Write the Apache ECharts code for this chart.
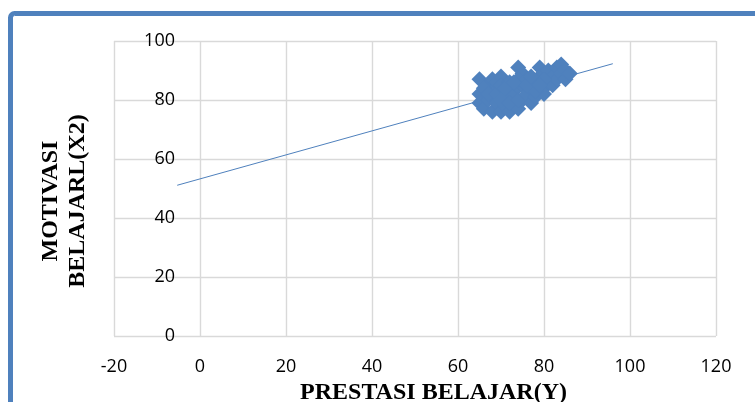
<!DOCTYPE html>
<html>
<head>
<meta charset="utf-8">
<script src="https://cdn.jsdelivr.net/npm/echarts@6/dist/echarts.min.js"></script>
<style>
  html, body { margin: 0; padding: 0; background: #ffffff; }
  #chart { width: 755px; height: 402px; }
</style>
</head>
<body>
<div id="chart"></div>
<script>
// Prestasi belajar (Y) vs motivasi belajar (X2), one point per student
const prestasi = [
  65, 65, 65, 66, 67, 68, 67, 68, 68, 69, 66, 69, 67, 69,
  70, 70, 70, 71, 71, 72, 72, 73, 73, 74, 74, 75, 75, 75, 72, 74, 71, 73, 70, 72, 74,
  76, 76, 77, 77, 78, 78, 79, 79, 80, 80, 81, 81, 82, 82, 83, 83, 84, 84, 85, 85, 86, 78, 80, 76, 77, 79
];
const motivasi = [
  87, 82, 79, 77, 85, 87, 80, 76, 83, 79, 84, 86, 82, 82,
  88, 85, 76, 81, 78, 86, 76, 83, 80, 91, 77, 89, 85, 80, 82, 87, 84, 86, 80, 79, 80,
  87, 82, 84, 79, 86, 81, 91, 88, 84, 82, 90, 86, 88, 85, 91, 87, 92, 89, 87, 90, 89, 83, 87, 85, 88, 85
];

// Linear trend line endpoints
const trendX = [-5.3, 96];
const trendY = [51.1, 92.3];

// Axis settings
const xTicks = { min: -20, max: 120, interval: 20 };
const yTicks = { min: 0, max: 100, interval: 20 };

const xAxisTitle = 'PRESTASI BELAJAR(Y)';
const yAxisTitle = 'MOTIVASI\nBELAJARL(X2)';

const blue = '#4F81BD';
const gridGray = '#d9d9d9';

const gridLeft = 114;
const gridRight = 39;
const chartWidth = 755;

const chart = echarts.init(document.getElementById('chart'), null, { renderer: 'canvas' });

const scatterData = prestasi.map((x, i) => [x, motivasi[i]]);
const trendData = trendX.map((x, i) => [x, trendY[i]]);

// pixel distance from the left plot edge to x = 0, so the vertical axis sits at zero
const plotWidth = chartWidth - gridLeft - gridRight;
const zeroOffset = (0 - xTicks.min) / (xTicks.max - xTicks.min) * plotWidth;

chart.setOption({
  backgroundColor: '#ffffff',
  animation: false,
  graphic: [{
    type: 'rect',
    shape: { x: 10.5, y: 13.5, width: 820, height: 460, r: 4 },
    style: { fill: 'none', stroke: blue, lineWidth: 5 },
    silent: true
  }],
  grid: { left: gridLeft, right: gridRight, top: 41, bottom: 66, outerBoundsMode: 'none', containLabel: false },
  xAxis: {
    type: 'value',
    min: xTicks.min, max: xTicks.max, interval: xTicks.interval,
    axisLine: { show: true, onZero: false, lineStyle: { color: gridGray, opacity: 0 } },
    axisTick: { show: false },
    axisLabel: { color: '#000', fontFamily: 'Open Sans', fontSize: 18, margin: 22 },
    splitLine: { show: true, lineStyle: { color: gridGray, width: 1.4 } },
    name: xAxisTitle,
    nameLocation: 'middle',
    nameGap: 35,
    nameTextStyle: {
      color: '#000', fontFamily: 'Liberation Serif', fontWeight: 'bold', fontSize: 24,
      padding: [0, 0, 0, 37]
    }
  },
  yAxis: {
    type: 'value',
    position: 'left',
    offset: -zeroOffset,
    min: yTicks.min, max: yTicks.max, interval: yTicks.interval,
    axisLine: { show: true, onZero: false, lineStyle: { color: gridGray, opacity: 0 } },
    axisTick: { show: false },
    axisLabel: { color: '#000', fontFamily: 'Open Sans', fontSize: 18, margin: 25 },
    splitLine: { show: true, lineStyle: { color: gridGray, width: 1.4 } },
    name: yAxisTitle,
    nameLocation: 'middle',
    nameRotate: 90,
    nameGap: 109,
    nameTextStyle: {
      color: '#000', fontFamily: 'Liberation Serif', fontWeight: 'bold', fontSize: 24,
      lineHeight: 27, align: 'center',
      padding: [0, 25, 0, 0]
    }
  },
  series: [
    {
      type: 'scatter',
      data: scatterData,
      symbol: 'diamond',
      symbolSize: 16,
      itemStyle: { color: blue, opacity: 1 },
      z: 2
    },
    {
      type: 'line',
      data: trendData,
      showSymbol: false,
      symbol: 'none',
      lineStyle: { color: blue, width: 1 },
      z: 3
    }
  ]
});
</script>
</body>
</html>
